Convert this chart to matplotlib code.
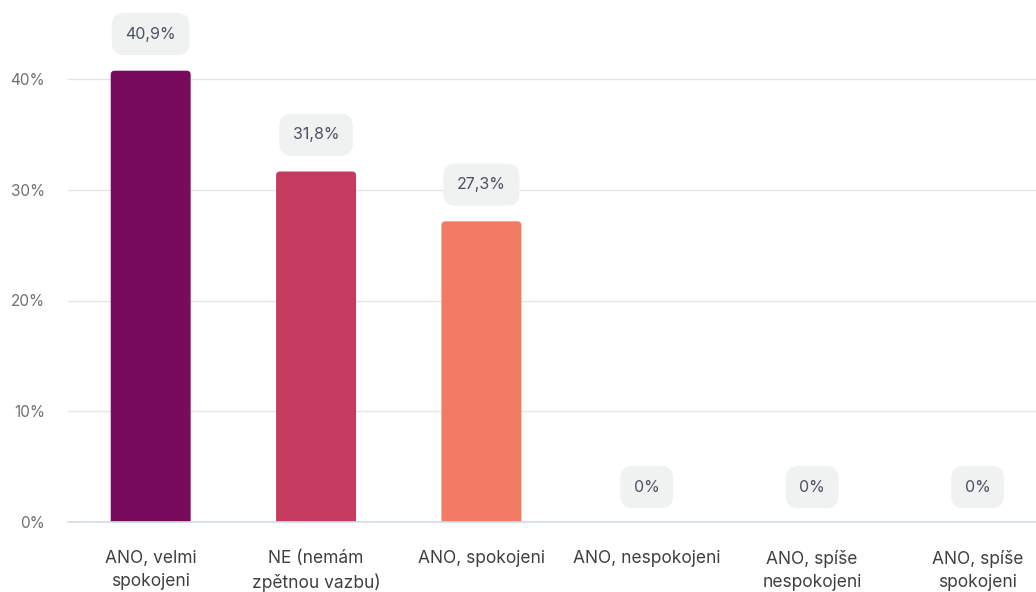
import matplotlib
matplotlib.use("Agg")
import matplotlib.pyplot as plt
from matplotlib.patches import FancyBboxPatch
from matplotlib.ticker import FuncFormatter

categories = ["ANO, velmi\nspokojeni", "NE (nemám\nzpětnou vazbu)", "ANO, spokojeni",
              "ANO, nespokojeni", "ANO, spíše\nnespokojeni", "ANO, spíše\nspokojeni"]
values = [40.9, 31.8, 27.3, 0, 0, 0]
labels = ["40,9%", "31,8%", "27,3%", "0%", "0%", "0%"]
colors = ["#780B5C", "#C53A5F", "#F07B62", "#F07B62", "#F07B62", "#F07B62"]
yticks = [0, 10, 20, 30, 40]

plt.rcParams['font.family'] = ['Inter', 'DejaVu Sans']

W, H = 1036, 592
fig = plt.figure(figsize=(W / 100, H / 100), dpi=100)
ax = fig.add_axes([68 / W, (H - 522) / H, (1036 - 68) / W, (522 - 30) / H])

xs = list(range(len(categories)))
bw = 80 / 165.5
bars = ax.bar(xs, values, width=bw, color=colors)
ax.set_xlim(-0.5, (1036 - 150) / 165.5)
ymax = 40 + (79 - 30) / 11.075
ax.set_ylim(0, ymax)

# replace with rounded-top bars
r_x = 4 / 165.5
r_y = 4 / 11.075
for b in bars:
    b.set_visible(False)
    h = b.get_height()
    if h <= 0:
        continue
    p = FancyBboxPatch((b.get_x(), -2), b.get_width(), h + 2 - 0.15,
                       boxstyle=f"round,pad=0,rounding_size={r_x}",
                       mutation_aspect=r_y / r_x,
                       fc=b.get_facecolor(), ec="none", clip_on=True, zorder=2)
    ax.add_patch(p)

for x, v, lab in zip(xs, values, labels):
    ax.annotate(lab, (x, v), xytext=(0, 35 * 72 / 100), textcoords="offset points",
                ha="center", va="center", fontsize=11.5, color="#4B5261",
                bbox=dict(boxstyle="round,pad=0.85,rounding_size=0.8", fc="#F0F2F2", ec="none"),
                zorder=3, annotation_clip=False)

ax.set_yticks(yticks)
ax.yaxis.set_major_formatter(FuncFormatter(lambda v, p: f"{int(v)}%"))
ax.grid(axis="y", color="#E6E6E6", linewidth=1)
ax.set_axisbelow(True)
for s in ["top", "right", "left"]:
    ax.spines[s].set_visible(False)
ax.spines["bottom"].set_color("#D3DBEA")
ax.spines["bottom"].set_linewidth(1.2)
ax.tick_params(axis="y", length=0, pad=16.5, labelsize=11, labelcolor="#707070")
ax.tick_params(axis="x", length=0, pad=20, labelsize=12.5, labelcolor="#404040")
ax.set_xticks(xs)
ax.set_xticklabels(categories, linespacing=1.45)

fig.savefig("out.png", dpi=100)
